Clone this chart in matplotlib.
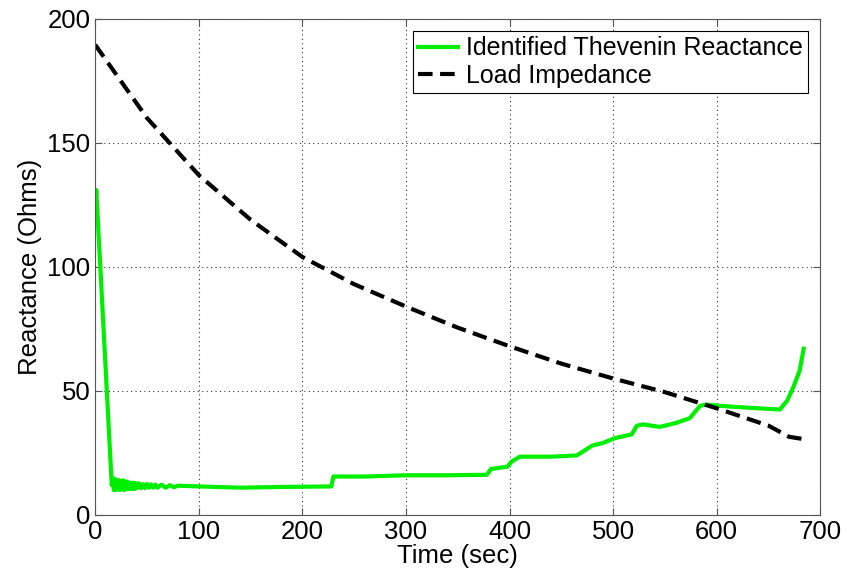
import matplotlib.pyplot as plt

plt.rcParams['font.family'] = ['Liberation Sans', 'DejaVu Sans']

green_t = [0, 1, 16, 17, 18, 19, 20, 21, 22, 23, 24, 25, 26, 27, 28, 29, 30, 31, 32,
           33, 34, 35, 36, 37, 38, 39, 40, 42, 44, 46, 48, 50, 52, 54, 56, 58, 60, 64,
           68, 72, 76, 80, 100, 140, 180, 228, 230, 260, 300, 340, 378, 382, 398, 402,
           410, 440, 465, 480, 490, 502, 518, 523, 529, 545, 560, 574, 584, 590, 603,
           620, 640, 661, 668, 674, 680, 684]
green_x = [118, 131, 12, 15, 10, 14.5, 10, 14, 10.5, 14, 10, 13.5, 10.5, 14, 10, 13.5,
           10.5, 13.5, 10.5, 13, 10.5, 13, 10.5, 13, 10.5, 12.8, 10.8, 12.8, 10.8, 12.5,
           10.8, 12.5, 11, 12.3, 11, 12.3, 11, 12.2, 11, 12, 11.2, 11.8, 11.5, 11, 11.3,
           11.5, 15.5, 15.5, 16, 16, 16.2, 18.5, 19.5, 21.5, 23.5, 23.5, 24, 28, 29, 31,
           32.5, 36, 36.5, 35.5, 37, 39, 44, 44.5, 44, 43.5, 43, 42.5, 46, 51.5, 58, 67]

# Load impedance (black dashed)
load_t = [0, 50, 100, 150, 200, 250, 300, 350, 400, 450, 500, 550, 600, 650, 670, 685]
load_x = [189.5, 160, 137, 119, 104, 93, 84, 75.5, 68, 61, 55, 49.5, 43, 36, 31.5, 30.5]

fig = plt.figure(figsize=(8.5, 5.77), dpi=100)
ax = fig.add_axes([0.112, 0.1075, 0.853, 0.86])

ax.plot(green_t, green_x, color='#00ee00', lw=3, label='Identified Thevenin Reactance')
ax.plot(load_t, load_x, color='black', lw=3, ls=(0, (3.5, 1.8)), label='Load Impedance')

ax.set_xlim(0, 700)
ax.set_ylim(0, 200)
ax.set_xticks(range(0, 701, 100))
ax.set_yticks(range(0, 201, 50))
ax.grid(True, color='#333333', ls=(0, (1, 3)), lw=0.8)
ax.tick_params(labelsize=18.5, direction='in', length=5, top=True, right=True,
               colors='#555555', labelcolor='black')
for s in ax.spines.values():
    s.set_color('#555555')
ax.set_xlabel('Time (sec)', fontsize=18.5, labelpad=0)
ax.set_ylabel('Reactance (Ohms)', fontsize=18.5, labelpad=4)

leg = ax.legend(loc='upper right', fontsize=18, fancybox=False, edgecolor='black',
                handlelength=1.6, handletextpad=0.3, borderpad=0.2, labelspacing=0.15,
                framealpha=1)
leg.get_frame().set_linewidth(0.8)

fig.savefig('out.png', dpi=100)
